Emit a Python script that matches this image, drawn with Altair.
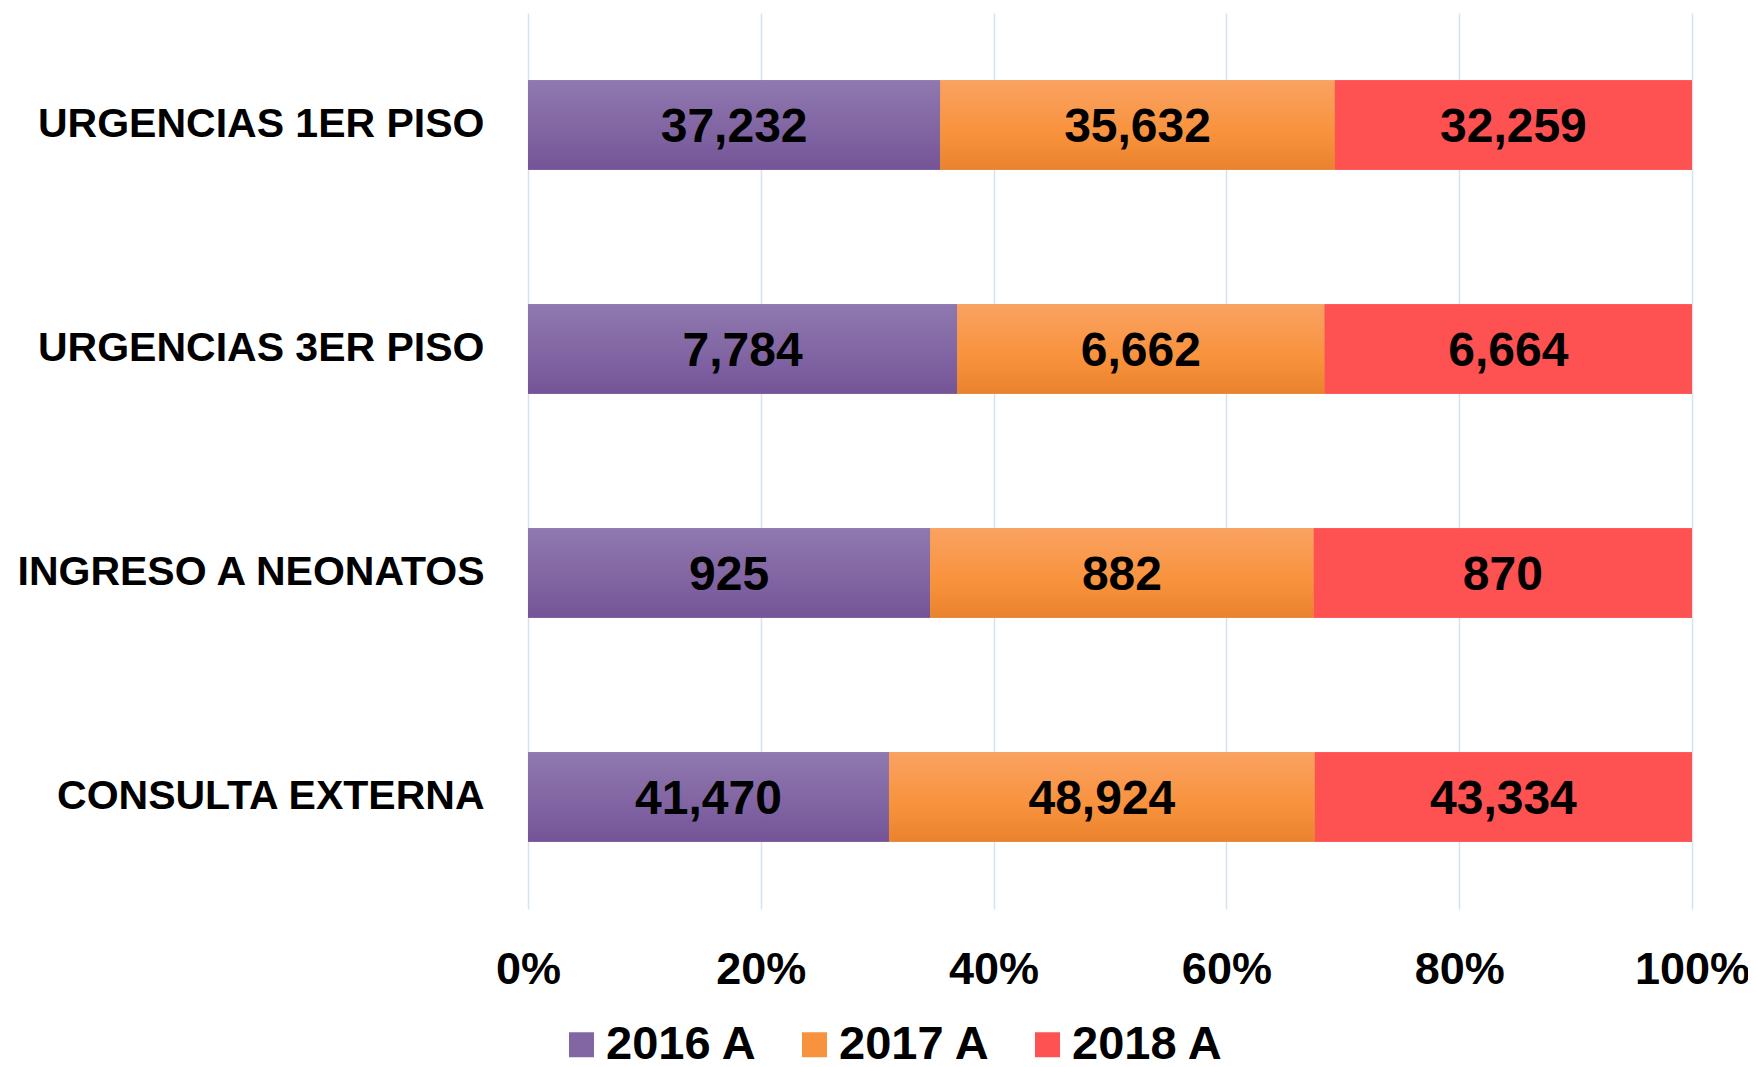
import altair as alt
import pandas as pd

categories = ["URGENCIAS 1ER PISO", "URGENCIAS 3ER PISO", "INGRESO A NEONATOS", "CONSULTA EXTERNA"]
series = ["2016 A", "2017 A", "2018 A"]
values_2016 = [37232, 7784, 925, 41470]
values_2017 = [35632, 6662, 882, 48924]
values_2018 = [32259, 6664, 870, 43334]
x_ticks = [0, 0.2, 0.4, 0.6, 0.8, 1.0]

colors = ["#8266A3", "#F7923E", "#FE5152"]
grad_stops = {
    "2016 A": ["#8F78AF", "#8064A2", "#745396"],
    "2017 A": ["#FAA262", "#F8923C", "#E8822C"],
    "2018 A": ["#FE5152", "#FE5152", "#FE5152"],
}

rows = []
for i, cat in enumerate(categories):
    vals = [values_2016[i], values_2017[i], values_2018[i]]
    total = sum(vals)
    start = 0.0
    for s, v in zip(series, vals):
        frac = v / total
        rows.append({"cat": cat, "serie": s, "value": v,
                     "x0": start, "x1": start + frac, "mid": start + frac / 2,
                     "label": f"{v:,}"})
        start += frac
df = pd.DataFrame(rows)

FONT = "Liberation Sans, Arial, sans-serif"

y_enc = alt.Y("cat:N", sort=categories, title=None,
              scale=alt.Scale(paddingInner=0.6, paddingOuter=0.3),
              axis=alt.Axis(labelFont=FONT, labelFontSize=41, labelFontWeight="bold",
                            labelColor="black", labelPadding=44, labelLimit=1000,
                            domain=False, ticks=False, grid=False))

x_scale = alt.Scale(domain=[0, 1], nice=False)
x_axis = alt.Axis(values=x_ticks, format=".0%", labelFont=FONT, labelFontSize=45,
                  labelFontWeight="bold", labelColor="black", labelPadding=38,
                  labelFlush=False, labelOverlap=False, domain=False, ticks=False,
                  grid=True, gridColor="#D6E2F0", gridWidth=1.5)

base = alt.Chart(df)

bars = base.mark_bar().encode(
    x=alt.X("x0:Q", scale=x_scale, axis=x_axis, title=None),
    x2="x1:Q",
    y=y_enc,
    color=alt.Color("serie:N", scale=alt.Scale(domain=series, range=colors),
                    legend=alt.Legend(title=None, orient="none", direction="horizontal",
                                      legendX=30, legendY=1008,
                                      symbolType="square",
                                      symbolSize=625, symbolStrokeWidth=0,
                                      labelFont=FONT, labelFontSize=47,
                                      labelFontWeight="bold", labelColor="black",
                                      labelOffset=1, columnPadding=33, labelLimit=400)),
)

grad_layers = []
for s in series:
    st = grad_stops[s]
    g = alt.Gradient(gradient="linear", x1=0, x2=0, y1=0, y2=1,
                     stops=[alt.GradientStop(color=st[0], offset=0),
                            alt.GradientStop(color=st[1], offset=0.6),
                            alt.GradientStop(color=st[2], offset=1)])
    grad_layers.append(
        base.transform_filter(alt.datum.serie == s).mark_bar(fill=g).encode(
            x=alt.X("x0:Q", scale=x_scale),
            x2="x1:Q",
            y=alt.Y("cat:N", sort=categories),
        )
    )

labels = base.mark_text(font=FONT, fontSize=48, fontWeight="bold", color="black",
                        baseline="middle", dy=3).encode(
    x=alt.X("mid:Q", scale=x_scale),
    y=alt.Y("cat:N", sort=categories),
    text="label:N",
)

chart = alt.layer(bars, *grad_layers, labels).properties(
    width=1164, height=896,
    autosize=alt.AutoSizeParams(type="none"),
    padding={"left": 520, "top": 5, "right": 56, "bottom": 158},
    background="white",
).configure_view(stroke=None)

chart.save("out.html", embed_options={"renderer": "svg", "actions": False})
